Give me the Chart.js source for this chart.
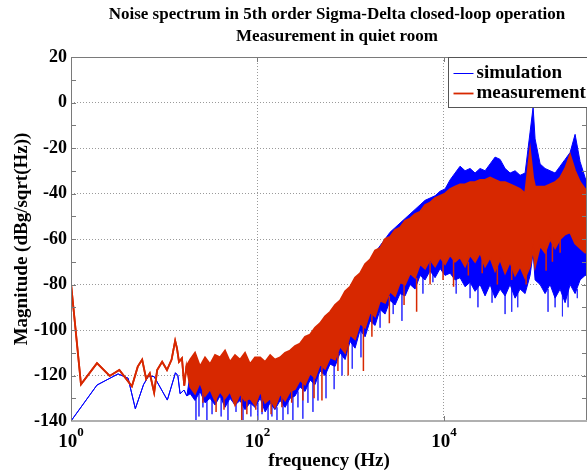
<!DOCTYPE html>
<html>
<head>
<meta charset="utf-8">
<script src="https://cdn.jsdelivr.net/npm/chart.js@4.4.1/dist/chart.umd.min.js"></script>
<style>
  html, body { margin: 0; padding: 0; background: #fff; }
</style>
</head>
<body>
<canvas id="noiseChart" width="587" height="474"></canvas>
<script>
var titleLines = ["Noise spectrum in 5th order Sigma-Delta closed-loop operation", "Measurement in quiet room"];
var seriesNames = ["simulation", "measurement"];
var xTickExp = [0, 2, 4];
var yMin = -140, yMax = 20, yStep = 20;

// low frequency part: one single trace
var simLowFreq = [1, 1.9, 3.2, 4.1, 4.9, 6.0, 6.8, 7.8, 10.8, 13.2, 14.0, 14.8, 16.3, 17.5];
var simLowVal = [-140, -124.2, -119.3, -121.2, -134.6, -124, -120.2, -120.5, -130.8, -118.8, -120, -128, -126.4, -129];
var measLowFreq = [1, 1.28, 1.9, 2.6, 3.3, 4.5, 5.2, 5.8, 6.4, 7.0, 7.8, 8.4, 9.5, 10.7, 12.0, 13.1, 13.7, 14.4, 15.5, 16.4, 17.3];
var measLowVal = [-79.5, -123.9, -114.6, -120.2, -117.6, -124.8, -116.1, -113, -121.5, -119, -127.5, -117.6, -114, -117.6, -113, -104.7, -108, -114, -112.4, -124.5, -116];

// dense part: upper / lower edge of the noise band
var bandFreq = [19, 21.4, 24.2, 27.4, 31, 35.1, 39.7, 44.9, 50.8, 57.5,
  65.1, 73.6, 83.3, 94.2, 107, 121, 137, 154, 175, 198,
  224, 253, 286, 324, 367, 415, 469, 531, 601, 680,
  770, 871, 986, 1115, 1262, 1428, 1616, 1828, 2068, 2340,
  2648, 2995, 3389, 3835, 4339, 4909, 5555, 6285, 7111, 8046,
  9104, 10300, 11660, 13190, 14920, 16880, 19100, 21610, 24450, 27670,
  31310, 35420, 40080, 45350, 51310, 58050, 65680, 74320, 84090, 90600,
  95150, 107700, 121800, 137800, 156000, 176500, 199700, 225900, 255600, 289200,
  327200, 370200];
var measUpper = [-113, -110, -116, -112, -115, -111, -112, -109, -114, -111,
  -113, -110, -115, -112, -112, -114, -111, -113, -112, -110,
  -109, -107, -106, -103, -102, -99, -97, -94, -92, -89,
  -87, -83, -81, -77, -75, -71, -69, -65, -64, -60,
  -59, -56, -55, -52, -51, -49, -48, -45, -44, -42,
  -41, -40, -38, -37, -36, -36, -35, -35, -34, -34,
  -33, -34, -35, -35, -36, -37, -38, -40, -21, -33,
  -37, -37, -37, -36, -35, -33, -29, -23, -30, -35,
  -38, -40];
var measLower = [-125, -128, -123, -129, -126, -131, -127, -130, -127, -133,
  -128, -131, -130, -133, -127, -132, -130, -134, -128, -131,
  -127, -126, -122, -124, -119, -121, -115, -117, -112, -113,
  -107, -110, -102, -104, -97, -99, -92, -94, -87, -88,
  -83, -85, -79, -80, -75, -77, -71, -73, -69, -72,
  -68, -71, -67, -70, -68, -72, -67, -70, -66, -72,
  -68, -74, -69, -75, -70, -76, -72, -77, -72, -64,
  -72, -63, -66, -60, -64, -60, -58, -57, -62, -64,
  -66, -66];
var simUpper = [-119, -120, -121, -118, -120, -117, -119, -116, -118, -116,
  -118, -116, -118, -116, -117, -116, -118, -116, -115, -116,
  -113, -112, -109, -107, -104, -102, -99, -97, -93, -91,
  -88, -85, -82, -79, -76, -73, -70, -66, -63, -60,
  -57, -55, -53, -51, -49, -47, -45, -43, -42, -41,
  -39, -38, -34, -31, -28, -30, -29, -31, -29, -30,
  -27, -24, -25, -29, -31, -30, -32, -31, -13, -2,
  -16, -27, -29, -30, -31, -28, -25, -22, -14, -26,
  -33, -36];
var simLower = [-128, -131, -127, -132, -130, -133, -129, -134, -130, -133,
  -131, -135, -132, -134, -130, -136, -132, -135, -131, -134,
  -130, -129, -125, -127, -122, -124, -118, -120, -115, -116,
  -110, -113, -105, -108, -100, -103, -96, -98, -91, -93,
  -87, -89, -84, -85, -80, -82, -76, -78, -74, -77,
  -73, -76, -75, -78, -77, -81, -79, -83, -80, -85,
  -80, -86, -82, -85, -80, -86, -82, -84, -76, -66,
  -78, -80, -84, -80, -86, -82, -88, -80, -84, -78,
  -76, -76];

// single deep dips below the band
var simDipFreq = [21.9, 23.6, 26, 28.7, 32.6, 40.8, 48.3, 58.9, 70, 85, 101, 112, 130, 143, 162, 188, 212, 240, 272, 307, 348, 394, 446, 544, 665, 808, 1040, 1290, 2068, 2860, 3550, 5960, 7620, 13550, 19100, 23200, 32850, 45350, 53420, 62000, 131000, 156000, 187000, 215000, 270000];
var simDipFrom = [-128, -126, -125, -124, -128, -130, -130, -131, -131, -132, -132, -131, -132, -133, -134, -132, -131, -129, -127, -126, -124, -122, -120, -118, -115, -111, -104, -100, -91, -87, -84, -77, -74, -76, -79, -80, -80, -84, -80, -82, -82, -84, -82, -80, -82];
var simDipTo = [-140, -138, -134, -140, -137, -138, -140, -136, -140, -138, -140, -137, -140, -138, -140, -140, -137, -140, -134, -139, -132, -136, -131, -130, -126, -120, -117, -112, -99, -93, -96, -84, -79, -84, -86, -90, -88, -93, -92, -90, -92, -90, -94, -90, -86];
var measDipFreq = [26, 36, 43.8, 67.8, 77, 96, 112, 140, 183, 233, 307, 405, 492, 730, 940, 1370, 1690, 2600, 3740, 5100, 7110, 9800, 12700, 18300, 25750, 37480, 53420, 76250, 124900, 146000, 176500];
var measDipFrom = [-125, -127, -126, -128, -130, -128, -128, -129, -128, -126, -123, -120, -116, -110, -106, -98, -93, -85, -80, -77, -70, -70, -68, -70, -68, -72, -72, -76, -64, -62, -60];
var measDipTo = [-132, -136, -135, -140, -137, -135, -136, -137, -134, -132, -131, -130, -131, -118, -120, -118, -103, -97, -89, -92, -80, -78, -81, -76, -75, -80, -78, -80, -74, -70, -66];

var blue = "#0000ff";
var red = "rgb(215, 40, 0)";
var serif = '"Liberation Serif", "Times New Roman", serif';

function trace(freqs, vals) {
    return freqs.map(function (f, i) { return { x: f, y: vals[i] }; });
}

function dips(freqs, from, to) {
    var pts = [];
    for (var i = 0; i < freqs.length; i++) {
        pts.push({ x: freqs[i], y: from[i] });
        pts.push({ x: freqs[i], y: to[i] });
        pts.push({ x: freqs[i], y: null });
    }
    return pts;
}

var simX = simLowFreq.concat(bandFreq);
var measX = measLowFreq.concat(bandFreq);

// axis box, inner ticks, x labels with exponent, title and legend
var decor = {
    id: "decor",
    afterDraw: function (chart) {
        var ctx = chart.ctx;
        var a = chart.chartArea;
        var xs = chart.scales.x;
        var ys = chart.scales.y;
        ctx.save();

        ctx.strokeStyle = "#7a7a7a";
        ctx.lineWidth = 1;
        ctx.beginPath();
        ctx.moveTo(a.left + 0.5, a.bottom);
        ctx.lineTo(a.left + 0.5, a.top + 0.5);
        ctx.lineTo(a.right - 0.5, a.top + 0.5);
        ctx.lineTo(a.right - 0.5, a.bottom);
        ctx.stroke();
        ctx.strokeStyle = "#b0b0b0";
        ctx.lineWidth = 2;
        ctx.beginPath();
        ctx.moveTo(a.left, a.bottom);
        ctx.lineTo(a.right, a.bottom);
        ctx.stroke();

        ctx.strokeStyle = "#7a7a7a";
        ctx.lineWidth = 1;
        ctx.beginPath();
        for (var v = yMin + 10; v < yMax; v += 10) {
            var py = Math.round(ys.getPixelForValue(v)) + 0.5;
            ctx.moveTo(a.left, py); ctx.lineTo(a.left + 5, py);
            ctx.moveTo(a.right, py); ctx.lineTo(a.right - 5, py);
        }
        xTickExp.forEach(function (e) {
            var px = Math.round(xs.getPixelForValue(Math.pow(10, e))) + 0.5;
            ctx.moveTo(px, a.bottom); ctx.lineTo(px, a.bottom - 5);
            ctx.moveTo(px, a.top); ctx.lineTo(px, a.top + 5);
        });
        ctx.stroke();

        ctx.fillStyle = "#000";
        ctx.textAlign = "left";
        ctx.textBaseline = "alphabetic";
        xTickExp.forEach(function (e) {
            var px = xs.getPixelForValue(Math.pow(10, e));
            ctx.font = "bold 19px " + serif;
            var w1 = ctx.measureText("10").width;
            ctx.font = "bold 13px " + serif;
            var w2 = ctx.measureText(String(e)).width;
            var x0 = px - (w1 + w2) / 2;
            ctx.font = "bold 19px " + serif;
            ctx.fillText("10", x0, 447);
            ctx.font = "bold 13px " + serif;
            ctx.fillText(String(e), x0 + w1, 436);
        });

        ctx.textAlign = "center";
        ctx.textBaseline = "middle";
        ctx.font = "bold 17px " + serif;
        ctx.fillText(titleLines[0], 337, 15);
        ctx.fillText(titleLines[1], 337, 37);

        // legend
        var lx = 448.5, ly = a.top + 0.5, lw = a.right - lx + 2, lh = 50;
        ctx.fillStyle = "#fff";
        ctx.fillRect(lx, ly, lw, lh);
        ctx.strokeStyle = "#555";
        ctx.lineWidth = 1;
        ctx.strokeRect(lx, ly, lw, lh);
        var cols = [blue, red];
        var widths = [1, 1.8];
        ctx.textAlign = "left";
        ctx.font = "bold 19px " + serif;
        for (var i = 0; i < seriesNames.length; i++) {
            var ry = ly + 16 + i * 20;
            ctx.strokeStyle = cols[i];
            ctx.lineWidth = widths[i];
            ctx.beginPath();
            ctx.moveTo(lx + 5, ry);
            ctx.lineTo(lx + 25, ry);
            ctx.stroke();
            ctx.fillStyle = "#000";
            ctx.fillText(seriesNames[i], lx + 28, ry);
        }
        ctx.restore();
    }
};

Chart.defaults.font.family = serif;

new Chart(document.getElementById("noiseChart"), {
    type: "line",
    data: {
        datasets: [{
            label: seriesNames[1],
            data: trace(measX, measLowVal.concat(measUpper)),
            borderColor: red, borderWidth: 1.8, backgroundColor: red,
            pointRadius: 0, fill: false, order: 1, tension: 0
        }, {
            label: seriesNames[1] + " lower",
            data: trace(measX, measLowVal.concat(measLower)),
            borderColor: red, borderWidth: 1.8, backgroundColor: red,
            pointRadius: 0, fill: "-1", order: 1, tension: 0
        }, {
            label: seriesNames[1] + " dips",
            data: dips(measDipFreq, measDipFrom, measDipTo),
            borderColor: red, borderWidth: 1.5,
            pointRadius: 0, fill: false, spanGaps: false, order: 1
        }, {
            label: seriesNames[0],
            data: trace(simX, simLowVal.concat(simUpper)),
            borderColor: blue, borderWidth: 1, backgroundColor: blue,
            pointRadius: 0, fill: false, order: 2, tension: 0
        }, {
            label: seriesNames[0] + " lower",
            data: trace(simX, simLowVal.concat(simLower)),
            borderColor: blue, borderWidth: 1, backgroundColor: blue,
            pointRadius: 0, fill: "-1", order: 2, tension: 0
        }, {
            label: seriesNames[0] + " dips",
            data: dips(simDipFreq, simDipFrom, simDipTo),
            borderColor: "rgba(40, 40, 255, 0.75)", borderWidth: 1,
            pointRadius: 0, fill: false, spanGaps: false, order: 2
        }]
    },
    options: {
        responsive: false,
        animation: false,
        layout: { padding: { top: 57, left: 0, right: 0, bottom: 0 } },
        plugins: {
            legend: { display: false },
            title: { display: false },
            tooltip: { enabled: false }
        },
        scales: {
            x: {
                type: "logarithmic",
                min: 1,
                max: 343000,
                afterBuildTicks: function (scale) {
                    scale.ticks = xTickExp.map(function (e) { return { value: Math.pow(10, e) }; });
                },
                afterFit: function (scale) { scale.height = 53; },
                ticks: { display: false },
                grid: {
                    drawTicks: false,
                    color: function (c) {
                        return (c.tick && c.tick.value === 1) ? "rgba(0,0,0,0)" : "#9a9a9a";
                    }
                },
                border: { display: false, dash: [1, 2] },
                title: {
                    display: true,
                    text: "frequency (Hz)",
                    color: "#000",
                    font: { size: 19, weight: "bold" },
                    padding: { top: 0, bottom: 1.6 }
                }
            },
            y: {
                min: yMin,
                max: yMax,
                afterFit: function (scale) { scale.width = 71; },
                ticks: {
                    stepSize: yStep,
                    padding: 4,
                    color: "#000",
                    font: { size: 18, weight: "bold" }
                },
                grid: {
                    drawTicks: false,
                    color: function (c) {
                        return (c.tick && (c.tick.value === yMin || c.tick.value === yMax)) ? "rgba(0,0,0,0)" : "#9a9a9a";
                    }
                },
                border: { display: false, dash: [1, 2] },
                title: {
                    display: true,
                    text: "Magnitude (dBg/sqrt(Hz))",
                    color: "#000",
                    font: { size: 19, weight: "bold" },
                    padding: { top: 10.6, bottom: 0 }
                }
            }
        }
    },
    plugins: [decor]
});
</script>
</body>
</html>
